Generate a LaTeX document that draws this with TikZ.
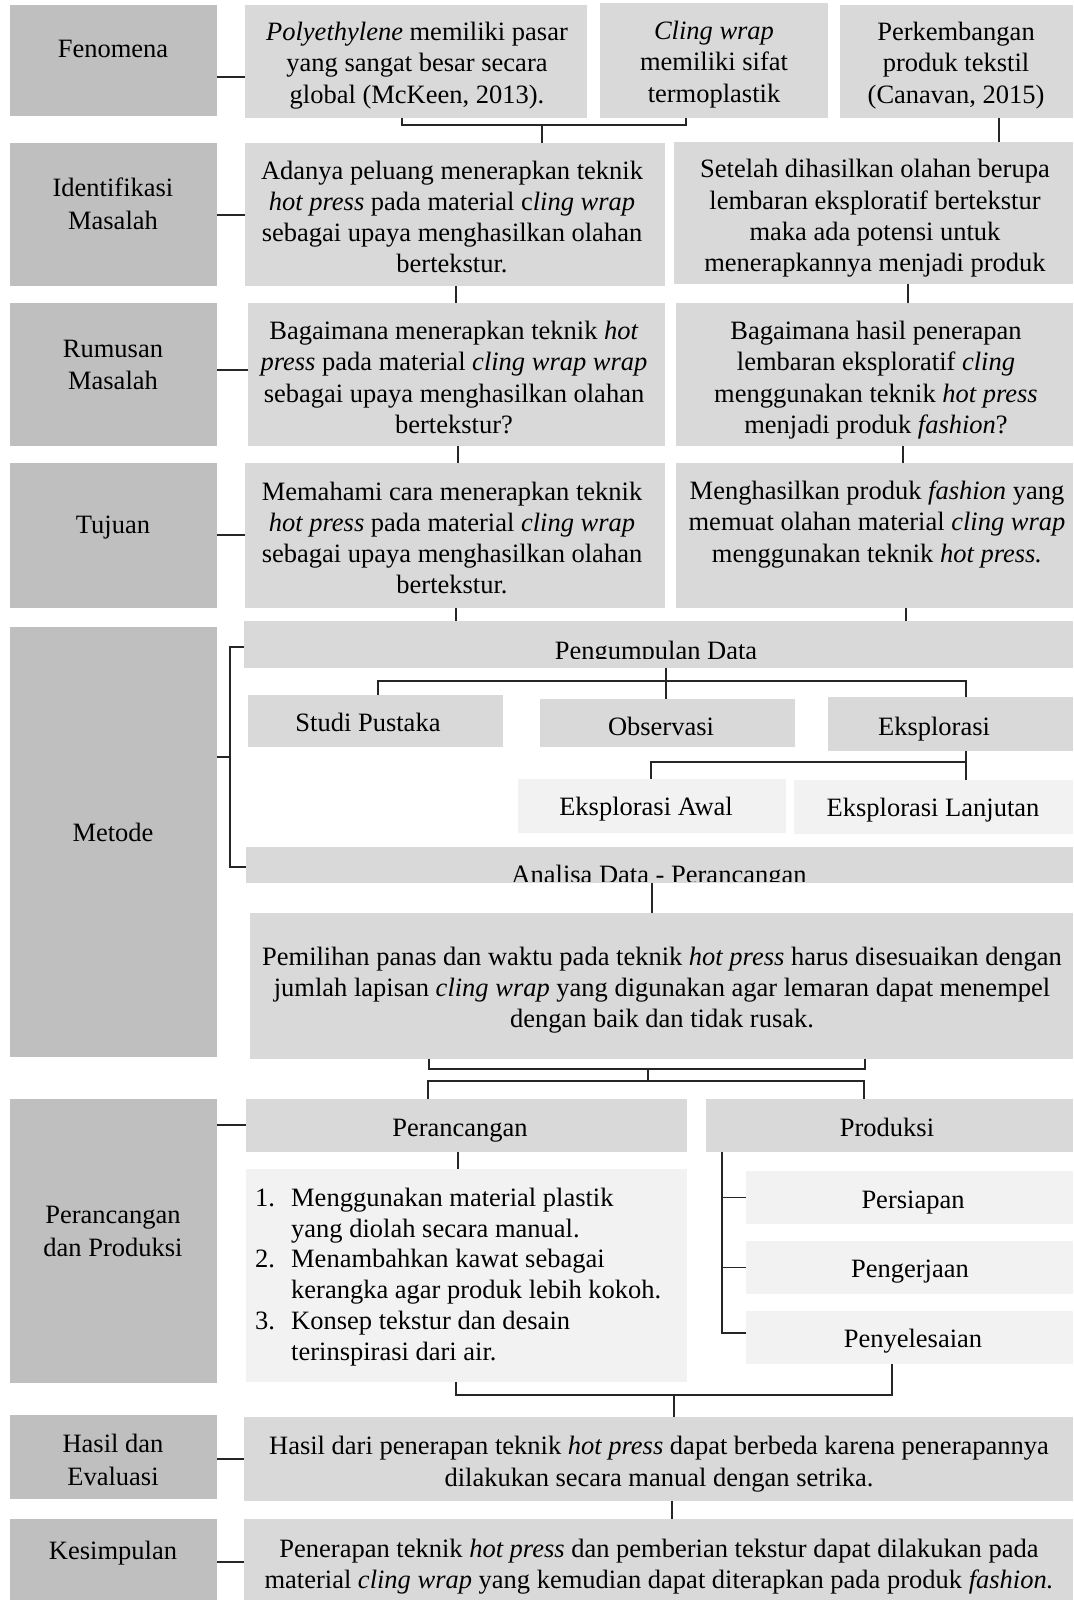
\documentclass[tikz,border=0pt]{standalone}
\usepackage{fontspec}
\setmainfont{Liberation Serif}
\usetikzlibrary{fit,calc}
\definecolor{dk}{HTML}{BFBFBF}
\definecolor{md}{HTML}{D9D9D9}
\definecolor{lt}{HTML}{F2F2F2}
\newcommand\fs{\fontsize{26.5}{31.3}\selectfont}
\newcommand\fsl{\fontsize{26.5}{32.6}\selectfont}
\newcommand\bx[6]{\node[fit={(#2,#3) (#4,#5)}, inner sep=0pt, outer sep=0pt, fill=#6, draw=none] (#1) {};}
\tikzset{
  txt/.style={align=center, inner sep=0pt, font=\fs},
  txtl/.style={align=center, inner sep=0pt, font=\fsl},
  txtone/.style={inner sep=0pt, font=\fs, text height=18pt, text depth=0pt},
  txtclip/.style={inner sep=0pt, font=\fs},
  ln/.style={line width=1.5pt, draw=black!85}
}
\begin{document}
\begin{tikzpicture}[x=1pt,y=-1pt]
\useasboundingbox (0,0) rectangle (1073,1600);
% left column
\bx{fen}{10}{5}{217}{116}{dk}
\bx{ide}{10}{143}{217}{286}{dk}
\bx{rum}{10}{303}{217}{446}{dk}
\bx{tuj}{10}{463}{217}{608}{dk}
\bx{met}{10}{627}{217}{1057}{dk}
\bx{pdp}{10}{1099}{217}{1383}{dk}
\bx{has}{10}{1415}{217}{1499}{dk}
\bx{kes}{10}{1519}{217}{1600}{dk}
\node[txtone] (fent) at (113,49) {Fenomena};
\node[txtl] (idet) at (113,204) {Identifikasi\\Masalah};
\node[txtl] (rumt) at (113,365) {Rumusan\\Masalah};
\node[txtone] (tujt) at (113,524) {Tujuan};
\node[txtone] (mett) at (113,832) {Metode};
\node[txtl] (pdpt) at (113,1231.5) {Perancangan\\dan Produksi};
\node[txtl] (hast) at (113,1460) {Hasil dan\\Evaluasi};
\node[txtone] (kest) at (113,1550) {Kesimpulan};
% right boxes
\bx{f1}{245}{5}{587}{118}{md}
\bx{f2}{600}{3}{828}{118}{md}
\bx{f3}{840}{5}{1073}{118}{md}
\bx{i1}{245}{143}{665}{286}{md}
\bx{i2}{674}{142}{1073}{284}{md}
\bx{r1}{248}{303}{665}{446}{md}
\bx{r2}{676}{303}{1073}{446}{md}
\bx{t1}{245}{463}{665}{608}{md}
\bx{t2}{676}{463}{1073}{608}{md}
\bx{pd}{244}{621}{1073}{668}{md}
\bx{sp}{248}{695}{503}{747}{md}
\bx{ob}{540}{699}{795}{747}{md}
\bx{ek}{828}{697}{1073}{751}{md}
\bx{ea}{518}{779}{786}{833}{lt}
\bx{el}{794}{780}{1073}{834}{lt}
\bx{ad}{246}{847}{1073}{883}{md}
\bx{bg}{250}{913}{1073}{1059}{md}
\bx{pc}{246}{1099}{687}{1152}{md}
\bx{pr}{706}{1099}{1073}{1152}{md}
\bx{ls}{246}{1169}{687}{1382}{lt}
\bx{ps}{746}{1171}{1073}{1224}{lt}
\bx{pg}{746}{1241}{1073}{1294}{lt}
\bx{py}{746}{1311}{1073}{1364}{lt}
\bx{hs}{244}{1417}{1073}{1501}{md}
\bx{ks}{244}{1519}{1073}{1600}{md}
% texts
\node[txt] (f1t) at (417,65.5) {\textit{Polyethylene} memiliki pasar\\yang sangat besar secara\\global (McKeen, 2013).};
\node[txt] (f2t) at (714,64.5) {\textit{Cling wrap}\\memiliki sifat\\termoplastik};
\node[txt] (f3t) at (956,65.5) {Perkembangan\\produk tekstil\\(Canavan, 2015)};
\node[txt] (i1t) at (452,217) {Adanya peluang menerapkan teknik\\\textit{hot press} pada material c\textit{ling wrap}\\sebagai upaya menghasilkan olahan\\bertekstur.};
\node[txt] (i2t) at (875,218.5) {Setelah dihasilkan olahan berupa\\lembaran eksploratif bertekstur\\maka ada potensi untuk\\menerapkannya menjadi produk};
\node[txt] (r1t) at (454,377.5) {Bagaimana menerapkan teknik \textit{hot}\\\textit{press} pada material \textit{cling wrap wrap}\\sebagai upaya menghasilkan olahan\\bertekstur?};
\node[txt] (r2t) at (876,380) {Bagaimana hasil penerapan\\lembaran eksploratif \textit{cling}\\menggunakan teknik \textit{hot press}\\menjadi produk \textit{fashion}?};
\node[txt] (t1t) at (452,538) {Memahami cara menerapkan teknik\\\textit{hot press} pada material \textit{cling wrap}\\sebagai upaya menghasilkan olahan\\bertekstur.};
\node[txt] (t2t) at (877,524.5) {Menghasilkan produk \textit{fashion} yang\\memuat olahan material \textit{cling wrap}\\menggunakan teknik \textit{hot press.}};
\begin{scope}
\clip (244,621) rectangle (1073,658);
\node[txtclip, anchor=base] (pdt) at (656,659.3) {Pengumpulan Data};
\end{scope}
\node[txtone] (spt) at (368,722) {Studi Pustaka};
\node[txtone] (obt) at (661,726) {Observasi};
\node[txtone] (ekt) at (934,726) {Eksplorasi};
\node[txtone] (eat) at (646,806) {Eksplorasi Awal};
\node[txtone] (elt) at (933,807) {Eksplorasi Lanjutan};
\begin{scope}
\clip (246,847) rectangle (1073,881);
\node[txtclip, anchor=base] (adt) at (659,883.5) {Analisa Data - Perancangan};
\end{scope}
\node[txt] (bgt) at (662,990) {Pemilihan panas dan waktu pada teknik \textit{hot press} harus disesuaikan dengan\\jumlah lapisan \textit{cling wrap} yang digunakan agar lemaran dapat menempel\\dengan baik dan tidak rusak.};
\node[txtone] (pct) at (460,1127) {Perancangan};
\node[txtone] (prt) at (887,1127) {Produksi};
\node[anchor=west, align=left, inner sep=0pt, font=\fontsize{26.5}{30.8}\selectfont] (lst) at (255,1277) {\makebox[36pt][l]{1.}Menggunakan material plastik\\\hspace*{36pt}yang diolah secara manual.\\\makebox[36pt][l]{2.}Menambahkan kawat sebagai\\\hspace*{36pt}kerangka agar produk lebih kokoh.\\\makebox[36pt][l]{3.}Konsep tekstur dan desain\\\hspace*{36pt}terinspirasi dari air.};
\node[txtone] (pst) at (913,1199) {Persiapan};
\node[txtone] (pgt) at (910,1268) {Pengerjaan};
\node[txtone] (pyt) at (913,1338) {Penyelesaian};
\node[txt] (hst) at (659,1464) {Hasil dari penerapan teknik \textit{hot press} dapat berbeda karena penerapannya\\dilakukan secara manual dengan setrika.};
\node[txt] (kst) at (659,1566.5) {Penerapan teknik \textit{hot press} dan pemberian tekstur dapat dilakukan pada\\material \textit{cling wrap} yang kemudian dapat diterapkan pada produk \textit{fashion.}};
% connectors: left stubs
\draw[ln] (fen.east |- 0,77) -- (f1.west |- 0,77);
\draw[ln] (ide.east |- 0,215) -- (i1.west |- 0,215);
\draw[ln] (rum.east |- 0,370) -- (r1.west |- 0,370);
\draw[ln] (tuj.east |- 0,535) -- (t1.west |- 0,535);
\coordinate (mb) at (230,757);
\draw[ln] (met.east |- mb) -- (mb);
\draw[ln] (pd.west |- 0,647) -| (mb) |- (ad.west |- 0,867);
\draw[ln] (pdp.east |- 0,1125) -- (pc.west |- 0,1125);
\draw[ln] (has.east |- 0,1459) -- (hs.west |- 0,1459);
\draw[ln] (kes.east |- 0,1562) -- (ks.west |- 0,1562);
% fenomena bracket
\coordinate (fb) at (542,125);
\draw[ln] (f1.south -| 402,0) |- (fb) -| (f2.south -| 686,0);
\draw[ln] (fb) -- (i1.north -| fb);
\draw[ln] (f3.south -| 999,0) -- (i2.north -| 999,0);
% vertical links
\draw[ln] (i1.south -| 456,0) -- (r1.north -| 456,0);
\draw[ln] (i2.south -| 908,0) -- (r2.north -| 908,0);
\draw[ln] (r1.south -| 458,0) -- (t1.north -| 458,0);
\draw[ln] (r2.south -| 903,0) -- (t2.north -| 903,0);
\draw[ln] (t1.south -| 456,0) -- (pd.north -| 456,0);
\draw[ln] (t2.south -| 906,0) -- (pd.north -| 906,0);
% pengumpulan tree
\coordinate (pj) at (666,681);
\draw[ln] (pd.south -| pj) -- (ob.north -| pj);
\draw[ln] (sp.north -| 378,0) |- (pj) -| (ek.north -| 966,0);
\coordinate (ej) at (966,762);
\draw[ln] (ek.south -| ej) -- (el.north -| ej);
\draw[ln] (ej) -| (ea.north -| 651,0);
\draw[ln] (ad.south -| 652,0) -- (bg.north -| 652,0);
% bg bracket
\coordinate (bj) at (648,1069);
\coordinate (bk) at (648,1081);
\draw[ln] (bg.south -| 429,0) |- (bj) -| (bg.south -| 865,0);
\draw[ln] (bj) -- (bk);
\draw[ln] (pc.north -| 428,0) |- (bk) -| (pr.north -| 864,0);
\draw[ln] (pc.south -| 458,0) -- (ls.north -| 458,0);
\coordinate (pt) at (722,1333);
\draw[ln] (pr.south -| pt) -- (pt) -- (py.west |- pt);
\draw[ln] (ps.west -| pt) -- (ps.west);
\draw[ln] (pg.west -| pt) -- (pg.west);
\coordinate (hj) at (674,1395);
\draw[ln] (py.south -| 892,0) |- (hj) -| (ls.south -| 456,0);
\draw[ln] (hj) -- (hs.north -| hj);
\draw[ln] (hs.south -| 672,0) -- (ks.north -| 672,0);
\end{tikzpicture}
\end{document}
